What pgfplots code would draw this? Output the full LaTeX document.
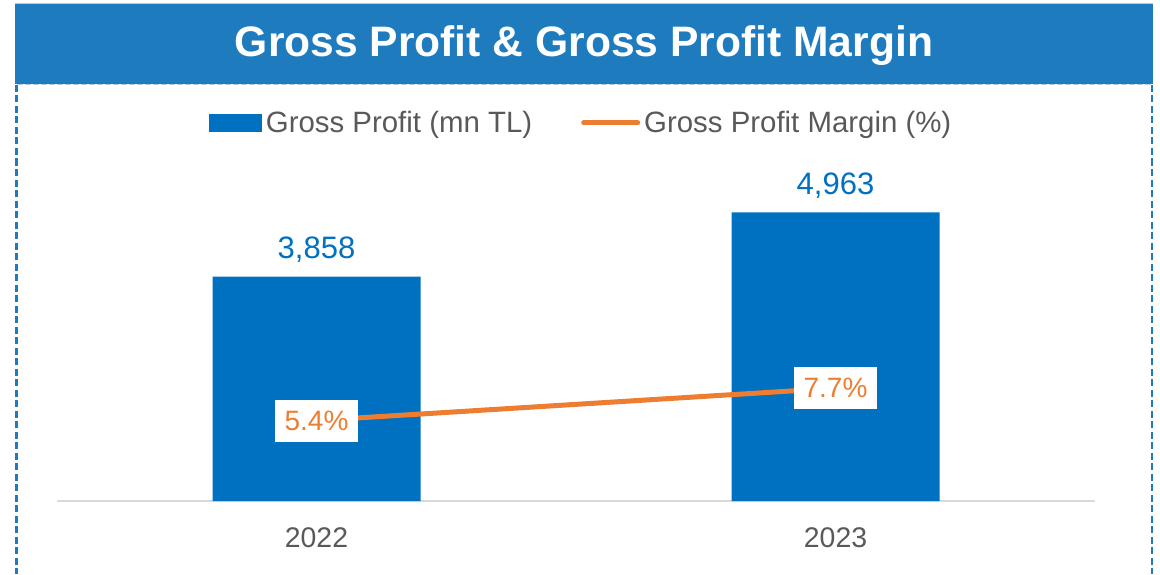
\documentclass[border=0pt]{standalone}
\usepackage{fontspec}
\setmainfont{Liberation Sans}
\usepackage{pgfplots}
\pgfplotsset{compat=1.18}
\definecolor{banner}{RGB}{30,123,190}
\definecolor{barblue}{RGB}{0,112,192}
\definecolor{lineorange}{RGB}{237,125,49}
\definecolor{txtgray}{RGB}{89,89,89}
\definecolor{axisgray}{RGB}{217,217,217}
\definecolor{dashlight}{RGB}{180,205,230}
\begin{document}
\begin{tikzpicture}
\useasboundingbox (0,0) rectangle (580pt,287pt);
\begin{scope}[x=0.5pt,y=-0.5pt,shift={(0pt,287pt)}]
\fill[banner] (15,4) rectangle (1153,84);
\draw[dashlight, line width=0.5pt] (15,4) -- (1153,4);
\draw[dashlight, line width=0.5pt, dash pattern=on 3pt off 1pt] (17,85) -- (1152,85);
\draw[banner, line width=1.3pt, dash pattern=on 3.5pt off 1.75pt] (16.7,85) -- (16.7,574);
\draw[banner, line width=1.3pt, dash pattern=on 3.5pt off 1.75pt] (1152,85) -- (1152,574);
\node[text=white, font=\fontsize{21.3}{25}\selectfont\bfseries] at (584,46) {Gross Profit \& Gross Profit Margin};
\end{scope}
\begin{axis}[
  at={(28.5pt,36.5pt)}, anchor=south west,
  scale only axis, width=519pt, height=175pt,
  xmin=-0.5, xmax=1.5, ymin=0, ymax=6020,
  axis x line*=bottom, axis y line=none,
  x axis line style={draw=axisgray, line width=1pt},
  xtick={0,1}, xticklabels={2022,2023},
  major tick length=0pt,
  xticklabel style={anchor=north, inner sep=0pt, yshift=-13pt, text=txtgray, font=\fontsize{14.2}{17}\selectfont},
  ytick=\empty,
  clip=false,
  ybar, bar width=104pt,
  nodes near coords, point meta=explicit symbolic,
  every node near coord/.style={anchor=base, yshift=9pt, inner sep=0pt, text=barblue, font=\fontsize{15.5}{18}\selectfont},
]
\addplot[fill=barblue, draw=none] coordinates {(0,3858)[3,858] (1,4963)[4,963]};
\end{axis}
\begin{axis}[
  at={(28.5pt,36.5pt)}, anchor=south west,
  scale only axis, width=519pt, height=175pt,
  xmin=-0.5, xmax=1.5, ymin=-0.3336, ymax=24.595,
  hide axis, clip=false,
  legend columns=2,
  legend cell align=left,
  legend style={draw=none, fill=none, at={(0.506,1.08)}, anchor=center,
    font=\fontsize{14.7}{17}\selectfont, text=txtgray,
    /tikz/every even column/.append style={column sep=22.5pt}},
]
\addlegendimage{legend image code/.code={\fill[barblue] (0pt,-4.25pt) rectangle (26pt,4.25pt);}}
\addlegendentry{Gross Profit (mn TL)}
\addplot[lineorange, line width=2.5pt,
  legend image code/.code={\draw[lineorange, line width=2.5pt, line cap=round] (0pt,0pt) -- (27pt,0pt);},
  nodes near coords, point meta=explicit symbolic,
  every node near coord/.style={anchor=center, fill=white, text=lineorange, inner sep=0pt, minimum width=41.5pt, minimum height=21pt, font=\fontsize{14}{17}\selectfont}]
  coordinates {(0,5.4)[5.4\%] (1,7.7)[7.7\%]};
\addlegendentry{Gross Profit Margin (\%)}
\end{axis}
\end{tikzpicture}
\end{document}
